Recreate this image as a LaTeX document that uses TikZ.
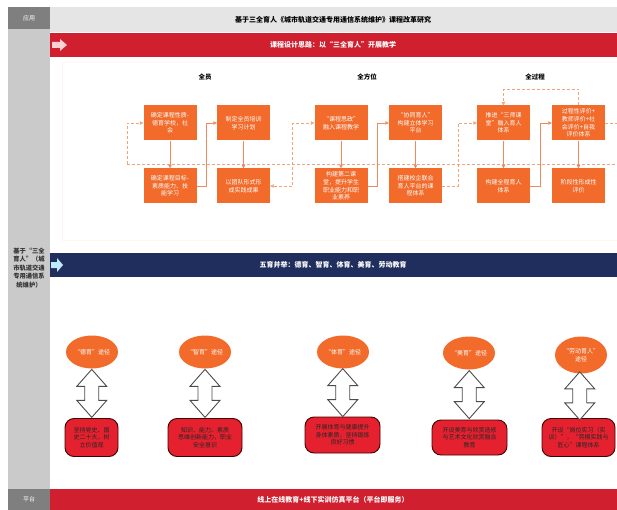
\documentclass[tikz,border=0pt]{standalone}
\usepackage{fontspec}
\setmainfont{Noto Sans CJK SC}
\usetikzlibrary{calc,shapes.geometric,arrows.meta}

\definecolor{orangebox}{HTML}{F26B2B}
\definecolor{orangeline}{HTML}{F08A5D}
\definecolor{dashline}{HTML}{F4A37A}
\definecolor{barred}{HTML}{D01F2E}
\definecolor{navybar}{HTML}{1F2E5C}
\definecolor{colgray}{HTML}{CACACA}
\definecolor{labelgray}{HTML}{7F7F7F}
\definecolor{titlegray}{HTML}{E5E5E5}
\definecolor{routered}{HTML}{E5212F}

\tikzset{
  stagebox/.style={fill=orangebox, text=white, minimum width=53pt, minimum height=35pt,
    inner sep=1pt, align=center, font=\fontsize{6}{7.6}\selectfont},
  route/.style={ellipse, fill=orangebox, text=white, minimum width=52pt, minimum height=33pt,
    inner sep=0pt, align=center, font=\fontsize{6}{7.6}\selectfont},
  waybox/.style={rounded corners=9pt, fill=routered, draw=black!75!red, line width=0.9pt,
    minimum height=38pt, inner sep=1pt, align=center, text=black!85,
    font=\fontsize{6}{7.6}\selectfont},
  solidlink/.style={draw=orangeline, line width=0.6pt, -{Triangle[length=3.5pt,width=3.5pt]}},
  dashlink/.style={draw=dashline, line width=0.6pt, dash pattern=on 3pt off 2pt,
    -{Triangle[length=3.5pt,width=3.5pt]}},
  head/.style={font=\bfseries\fontsize{6.5}{7}\selectfont},
  barlabel/.style={text=white, font=\bfseries\fontsize{7}{8}\selectfont},
  pics/updown/.style={
     code={
        \draw[fill=white, draw=black!70, line width=0.9pt] (0,-24) -- (15,-7) -- (7,-7) -- (7,7)
          -- (15,7) -- (0,24) -- (-15,7) -- (-7,7) -- (-7,-7) -- (-15,-7) -- cycle;
     }
  }
}

\begin{document}
\begin{tikzpicture}[x=1pt,y=-1pt]
            \useasboundingbox[fill=white] (0,0) rectangle (617,510);
            % frame and bars
            \fill[colgray] (8,29) rectangle (50,489);
            \fill[labelgray] (8,7) rectangle (50,29);
            \fill[labelgray] (8,489) rectangle (50,510);
            \fill[titlegray] (50,7) rectangle (617,32);
            \fill[barred] (50,33) rectangle (617,57);
            \fill[navybar] (50,253) rectangle (617,277);
            \fill[barred] (50,489) rectangle (617,510);
            \draw[red!4] (62,62) rectangle (617,240);
            \fill[pink!70] (52,42) -- (60,42) -- (60,39) -- (67,45) -- (60,51) -- (60,48) -- (52,48) -- cycle;
            \fill[cyan!25] (51,262) -- (57,262) -- (57,258) -- (63,265) -- (57,272) -- (57,268) -- (51,268) -- cycle;
            \node[text=white, font=\fontsize{6}{7}\selectfont] (tag_use) at (29,18) {应用};
            \node[text=white, font=\fontsize{6}{7}\selectfont] (tag_base) at (29,499.5) {平台};
            \node[font=\bfseries\fontsize{7}{8}\selectfont] (title) at (333,19.5) {基于三全育人《城市轨道交通专用通信系统维护》课程改革研究};
            \node[barlabel] (idea) at (333,45) {课程设计思路：以“三全育人”开展教学};
            \node[barlabel] (five) at (333,265) {五育并举：德育、智育、体育、美育、劳动教育};
            \node[barlabel] (platform) at (333,499.5) {线上在线教育+线下实训仿真平台（平台即服务）};
            \node[align=center, text=black!80, font=\bfseries\fontsize{6.3}{8.4}\selectfont] (side) at (29,268)
              {基于“三全\\育人”（城\\市轨道交通\\专用通信系\\统维护）};
            % three columns
            \node[head] (h_all) at (205,77) {全员};
            \node[head] (h_wide) at (367,77) {全方位};
            \node[head] (h_long) at (535,77) {全过程};
            \node[stagebox] (a1) at (170,123) {确定课程性质-\\德育学校，社\\会};
            \node[stagebox] (a2) at (243.5,123) {制定全员培训\\学习计划};
            \node[stagebox] (a3) at (170,186) {确定课程目标-\\素质能力、技\\能学习};
            \node[stagebox] (a4) at (243.5,186) {以团队形式形\\成实践成果};
            \node[stagebox] (b1) at (341,123) {“课程思政”\\融入课程教学};
            \node[stagebox] (b2) at (415.5,123) {“协同育人”\\构建立体学习\\平台};
            \node[stagebox] (b3) at (341,186) {构建第二课\\堂，提升学生\\职业能力和职\\业素养};
            \node[stagebox] (b4) at (415.5,186) {搭建校企联合\\育人平台的课\\程体系};
            \node[stagebox] (c1) at (503.5,123) {推进“三师课\\堂”融入育人\\体系};
            \node[stagebox] (c2) at (578.5,123) {过程性评价+\\教师评价+社\\会评价+自我\\评价体系};
            \node[stagebox] (c3) at (503.5,186) {构建全程育人\\体系};
            \node[stagebox] (c4) at (578.5,186) {阶段性形成性\\评价};
            \coordinate (dash_l) at (127,164);
            \coordinate (dash_r) at (617,164);
            \coordinate (dash_e) at (617,123);
            \draw[dashlink, -] (dash_l) -- (dash_r);
            \draw[dashlink] (dash_l) |- (a1.west);
            \draw[solidlink] (a1) -- (a3);
            \draw[solidlink] (a3.east) -- ++(10,0) |- (a2.west);
            \draw[solidlink] (a2) -- (a4);
            \draw[dashlink, {Triangle[length=3.5pt,width=3.5pt]}-{Triangle[length=3.5pt,width=3.5pt]}]
              (a4.east) -- ++(22,0) |- (b1.west);
            \draw[solidlink] (b1) -- (b3);
            \draw[solidlink] (b3.east) -- ++(10,0) |- (b2.west);
            \draw[solidlink] (b2) -- (b4);
            \draw[dashlink] (b4.east) -- ++(16,0) |- (c1.west);
            \draw[solidlink] (c1) -- (c3);
            \draw[solidlink] (c3.east) -- ++(10,0) |- (c2.west);
            \draw[solidlink] (c2) -- (c4);
            \draw[dashlink] (c2.north) -- ++(0,-16) -| (c1.north);
            \draw[dashlink, -] (c2.east) -- (dash_e);
            % five routes
            \node[route] (e1) at (92,352) {“德育”途径};
            \node[route] (e2) at (205,352) {“智育”途径};
            \node[route] (e3) at (343,352) {“体育”途径};
            \node[route] (e4) at (469,353) {“美育”途径};
            \node[route, minimum height=37pt] (e5) at (581,355) {“劳动育人”\\途径};
            \node[waybox, minimum width=53pt] (r1) at (91.5,437.5) {坚持党史、国\\史二十大，树\\立价值观};
            \node[waybox, minimum width=74pt] (r2) at (205,437.5) {知识、能力、素质\\思维创新能力，职业\\安全意识};
            \node[waybox, minimum width=75pt, minimum height=36pt] (r3) at (342.5,435) {开展体育与健康提升\\身体素质，坚持锻炼\\良好习惯};
            \node[waybox, minimum width=75pt, minimum height=35pt] (r4) at (469.5,437.5) {开设美育与欣赏选修\\与艺术文化欣赏融合\\教育};
            \node[waybox, minimum width=73pt] (r5) at (578.5,437.5) {开设“岗位实习（实\\训）”，“劳模实践与\\匠心”课程体系};
            \foreach \i in {1,...,5}
              \pic at ($(e\i.south)!0.5!(r\i.north)$) {updown};
        \end{tikzpicture}
\end{document}
